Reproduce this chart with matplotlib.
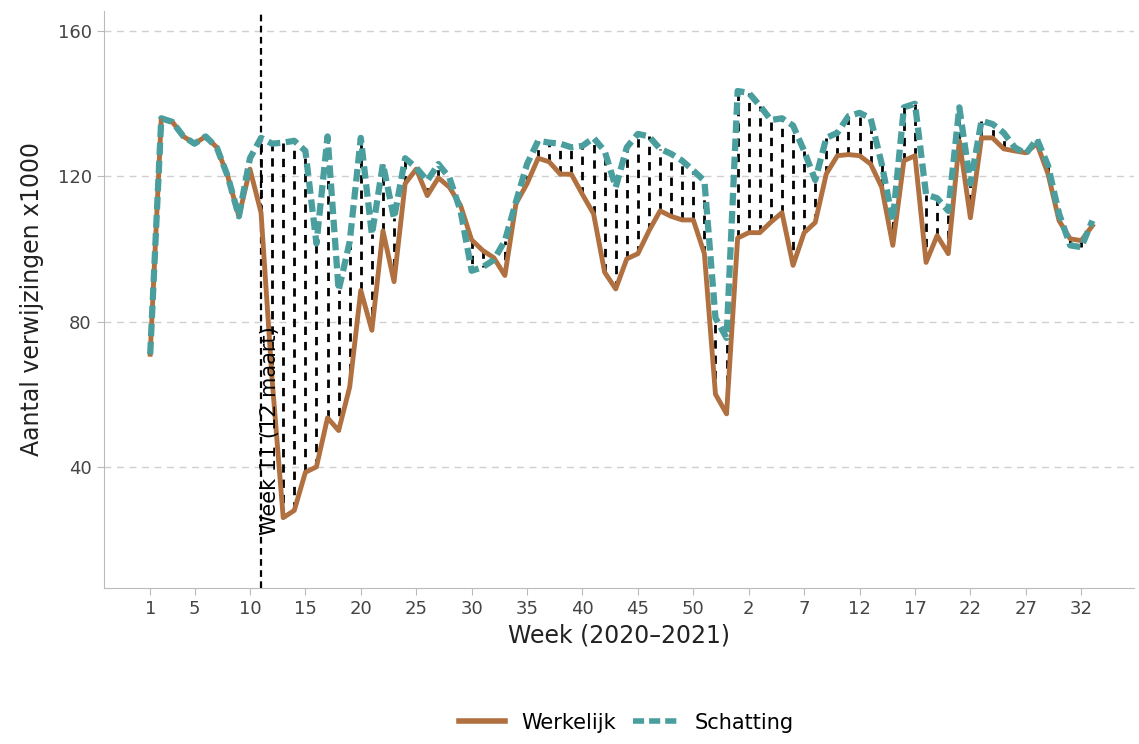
import numpy as np
import matplotlib
matplotlib.use("Agg")
import matplotlib.pyplot as plt
from matplotlib.lines import Line2D

# week index 1..86 (2020 week 1-53, then 2021 week 1-33)
werkelijk = [71, 136, 135, 131, 129, 131, 128, 120, 109, 122,
             110, 64, 26, 28, 38.5, 40, 53.5, 50, 62, 88.6,
             77.6, 105, 91, 118, 122, 114.7, 119.6, 117, 112, 102.5,
             99.6, 97.6, 92.7, 112.5, 118, 125, 124, 120.6, 120.6, 115,
             109.7, 93.6, 89, 97.3, 98.7, 105, 110.5, 109, 108, 108,
             98.7, 60, 54.6, 103, 104.5, 104.5, 107.4, 110, 95.5, 104.5,
             107.3, 120.7, 125.7, 126, 125.7, 123.4, 117, 101, 124.3, 125.7,
             96.3, 103.7, 98.7, 129.8, 108.6, 130.6, 130.6, 127.6, 127, 126.5,
             129, 120.7, 107.8, 102.8, 102.3, 106.4]
schatting = [71, 136, 135, 131, 129, 131, 128, 120, 109, 125,
             130.6, 129, 129.3, 129.8, 127, 101.5, 131, 88.6, 102, 130.6,
             104, 123.4, 108.4, 125, 122.4, 118.8, 123.4, 119.6, 110.5, 94,
             95, 97, 102.3, 113, 123.4, 129.8, 129.3, 129, 128, 128.4,
             130.6, 127, 117, 128, 131.7, 131, 127.6, 126.2, 124.3, 121.6,
             118.8, 81, 75.5, 143.5, 143, 139.5, 135.5, 136, 134, 127,
             119, 130.6, 132, 136.6, 137.5, 136, 123.4, 107.8, 139, 140,
             115, 114, 110.5, 139, 118, 135.3, 134.4, 132, 128, 126.2,
             130.3, 123, 109.7, 101, 100.5, 107.8]
weeks = np.arange(1, len(werkelijk) + 1)
tick_pos = [1, 5, 10, 15, 20, 25, 30, 35, 40, 45, 50, 55, 60, 65, 70, 75, 80, 85]
tick_lab = ["1", "5", "10", "15", "20", "25", "30", "35", "40", "45", "50",
            "2", "7", "12", "17", "22", "27", "32"]
start_week = 11

orange = "#B07040"
teal = "#4A9E9E"

fig = plt.figure(figsize=(11.39, 7.44), dpi=100)
ax = fig.add_axes([0.091, 0.21, 0.905, 0.775])

w = np.array(werkelijk)
s = np.array(schatting)
m = weeks >= start_week
ax.vlines(weeks[m], w[m], s[m], colors="black", linestyles=(0, (3, 2.5)), lw=2, zorder=2)
ax.axvline(start_week, color="black", ls=(0, (3, 2)), lw=1.6, zorder=2)
ax.plot(weeks, w, color=orange, lw=3.5, zorder=3)
ax.plot(weeks, s, color=teal, lw=4.5, ls=(0, (2, 0.9)), zorder=4)
ax.text(start_week + 0.8, 50, "Week 11 (12 maart)", rotation=90, ha="center", va="center",
        fontsize=15, zorder=5)

ax.set_xlim(-3.2, 89.8)
ax.set_ylim(6.7, 165.5)
ax.set_yticks([40, 80, 120, 160])
ax.set_xticks(tick_pos)
ax.set_xticklabels(tick_lab)
ax.grid(axis="y", color="#d0d0d0", ls=(0, (5, 4)), lw=1)
ax.set_axisbelow(True)
for sp in ["top", "right"]:
    ax.spines[sp].set_visible(False)
for sp in ["left", "bottom"]:
    ax.spines[sp].set_color("#bbbbbb")
ax.tick_params(colors="#bbbbbb", labelcolor="#444444", labelsize=13, length=5)
ax.set_xlabel("Week (2020\u20132021)", fontsize=17, color="#222222")
ax.set_ylabel("Aantal verwijzingen x1000", fontsize=17, color="#222222", labelpad=10)

handles = [Line2D([], [], color=orange, lw=4),
           Line2D([], [], color=teal, lw=4, ls=(0, (2, 0.9)))]
leg = fig.legend(handles, ["Werkelijk", "Schatting"], loc="lower center",
                 bbox_to_anchor=(0.55, -0.01), ncol=2, frameon=False, fontsize=15,
                 handlelength=2.2, columnspacing=0.8)
fig.savefig("out.png", dpi=100)
